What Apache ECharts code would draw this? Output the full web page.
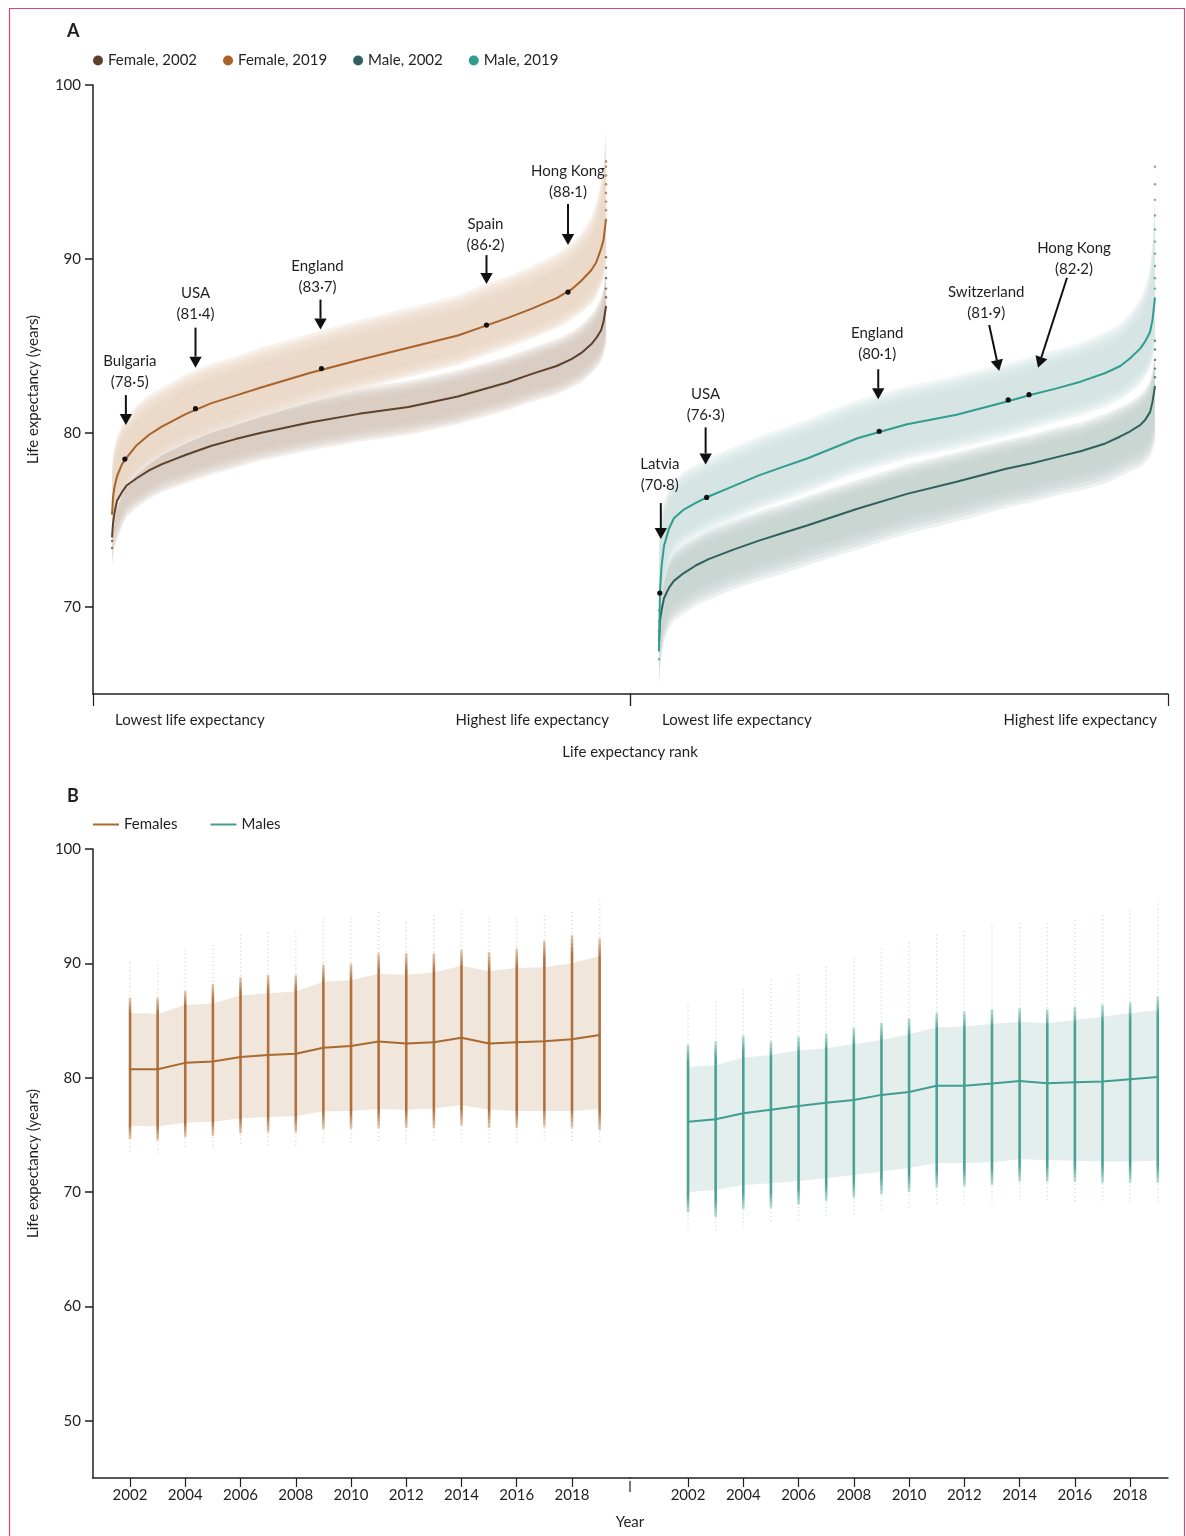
<!DOCTYPE html>
<html><head><meta charset="utf-8">
<script src="https://cdn.jsdelivr.net/npm/echarts@6/dist/echarts.min.js"></script>
<style>html,body{margin:0;padding:0;background:#fff}#c{width:1186px;height:1536px}</style>
</head><body><div id="c"></div>
<script>
// ---------------- Panel A data (rank percentile -> life expectancy) ----------------
const rankPct = [0, 0.2, 0.5, 1, 2, 3, 5, 7.5, 10, 15, 20, 25, 30, 40, 50, 60, 70, 75, 80, 85, 90, 93, 95, 97, 98, 99, 99.5, 100];

const female2019   = [75.3, 76.3, 76.9, 77.5, 78.2, 78.6, 79.3, 79.9, 80.35, 81.1, 81.7, 82.15, 82.6, 83.45, 84.2, 84.9, 85.6, 86.1, 86.6, 87.15, 87.75, 88.25, 88.75, 89.35, 89.8, 90.6, 91.1, 92.3];
const female2019Hi = [78.0, 78.7, 79.2, 79.8, 80.5, 80.9, 81.6, 82.2, 82.6, 83.4, 84.0, 84.4, 84.9, 85.7, 86.5, 87.2, 87.9, 88.5, 89.0, 89.6, 90.3, 90.9, 91.5, 92.4, 93.2, 94.5, 95.5, 97.5];
const female2019Lo = [72.8, 74.0, 74.8, 75.6, 76.4, 76.9, 77.6, 78.2, 78.7, 79.4, 80.0, 80.45, 80.9, 81.75, 82.5, 83.2, 83.9, 84.4, 84.9, 85.4, 86.0, 86.5, 86.9, 87.4, 87.8, 88.4, 88.8, 89.6];

const female2002   = [74.0, 74.8, 75.4, 76.1, 76.6, 77.0, 77.4, 77.85, 78.2, 78.75, 79.25, 79.65, 80.0, 80.6, 81.1, 81.5, 82.1, 82.5, 82.9, 83.4, 83.85, 84.25, 84.6, 85.1, 85.45, 85.9, 86.4, 87.3];
const female2002Hi = [76.0, 76.6, 77.2, 77.8, 78.2, 78.6, 79.0, 79.4, 79.7, 80.3, 80.8, 81.2, 81.5, 82.1, 82.6, 83.0, 83.6, 84.0, 84.4, 84.9, 85.4, 85.8, 86.2, 86.8, 87.2, 87.8, 88.4, 89.5];
const female2002Lo = [72.3, 72.9, 73.4, 73.8, 74.6, 75.2, 75.7, 76.2, 76.6, 77.1, 77.6, 78.0, 78.4, 79.0, 79.5, 79.9, 80.5, 80.9, 81.3, 81.8, 82.2, 82.6, 82.9, 83.4, 83.7, 84.1, 84.5, 85.0];

const male2019   = [67.5, 70.9, 72.3, 73.5, 74.5, 75.1, 75.6, 76.0, 76.35, 76.95, 77.55, 78.05, 78.55, 79.7, 80.5, 81.05, 81.8, 82.2, 82.55, 82.95, 83.45, 83.85, 84.3, 84.85, 85.25, 85.8, 86.5, 87.8];
const male2019Hi = [74.0, 75.0, 75.6, 76.1, 76.8, 77.3, 77.8, 78.2, 78.6, 79.2, 79.8, 80.3, 80.8, 81.9, 82.7, 83.3, 84.0, 84.4, 84.8, 85.2, 85.8, 86.3, 86.9, 87.7, 88.4, 89.5, 91.0, 94.0];
const male2019Lo = [65.5, 68.5, 70.2, 71.4, 72.5, 73.1, 73.6, 74.0, 74.4, 75.0, 75.6, 76.1, 76.6, 77.7, 78.5, 79.1, 79.8, 80.2, 80.6, 81.0, 81.5, 81.9, 82.3, 82.8, 83.2, 83.7, 84.2, 85.0];

const male2002   = [68.0, 69.2, 69.8, 70.5, 71.1, 71.5, 71.95, 72.4, 72.75, 73.3, 73.8, 74.25, 74.7, 75.65, 76.5, 77.2, 77.95, 78.25, 78.6, 78.95, 79.4, 79.8, 80.1, 80.45, 80.75, 81.2, 81.8, 82.7];
const male2002Hi = [70.5, 71.2, 71.7, 72.3, 72.9, 73.3, 73.7, 74.1, 74.5, 75.0, 75.5, 75.9, 76.4, 77.3, 78.2, 78.9, 79.6, 79.9, 80.3, 80.6, 81.1, 81.5, 81.8, 82.2, 82.5, 83.0, 83.6, 84.6];
const male2002Lo = [65.5, 66.3, 67.2, 68.0, 68.8, 69.2, 69.6, 70.1, 70.4, 71.0, 71.5, 71.9, 72.4, 73.3, 74.2, 74.9, 75.7, 76.0, 76.4, 76.7, 77.1, 77.5, 77.8, 78.0, 78.3, 78.6, 79.0, 79.5];

// isolated extreme areas at the two ends of the ranking (rank 100 = top, rank 0 = bottom)
const female2019TopTail = [92.8, 93.3, 93.8, 94.3, 94.8, 95.3, 95.6];
const female2002TopTail = [87.8, 88.3, 88.9, 89.5, 90.1];
const male2019TopTail = [88.3, 88.9, 89.6, 90.3, 91.0, 91.7, 92.5, 93.4, 94.3, 95.3];
const male2002TopTail = [83.2, 83.7, 84.2, 84.8, 85.3];
const male2019BottomTail = [67.0, 67.5, 68.1, 68.6, 69.2, 69.8];
const female2002BottomTail = [73.4, 73.8];

// labelled countries (2019)
const femaleLabelNames = ['Bulgaria', 'USA', 'England', 'Spain', 'Hong Kong'];
const femaleLabelRank  = [2.6, 16.9, 42.4, 75.8, 92.3];
const femaleLabelValue = [78.5, 81.4, 83.7, 86.2, 88.1];
const maleLabelNames = ['Latvia', 'USA', 'England', 'Switzerland', 'Hong Kong'];
const maleLabelRank  = [0.16, 9.6, 44.4, 70.4, 74.6];
const maleLabelValue = [70.8, 76.3, 80.1, 81.9, 82.2];

// ---------------- Panel B data (by year) ----------------
const years = [2002, 2003, 2004, 2005, 2006, 2007, 2008, 2009, 2010, 2011, 2012, 2013, 2014, 2015, 2016, 2017, 2018, 2019];
const yearTicks = [2002, 2004, 2006, 2008, 2010, 2012, 2014, 2016, 2018];

const femalesMedian = [80.74, 80.74, 81.3, 81.41, 81.82, 81.99, 82.1, 82.63, 82.78, 83.16, 83.0, 83.1, 83.5, 83.0, 83.1, 83.2, 83.36, 83.74];
const femalesHi     = [85.69, 85.58, 86.36, 86.5, 87.18, 87.38, 87.53, 88.4, 88.55, 89.07, 89.0, 89.2, 89.8, 89.3, 89.6, 89.66, 90.0, 90.65];
const femalesLo     = [75.81, 75.73, 76.08, 76.16, 76.45, 76.54, 76.66, 77.04, 77.1, 77.27, 77.2, 77.3, 77.6, 77.2, 77.1, 77.1, 77.1, 77.25];
const femalesDenseTop    = [87.0, 87.0, 87.6, 88.2, 88.8, 89.0, 89.0, 89.9, 90.0, 90.9, 90.9, 90.9, 91.2, 91.0, 91.3, 92.0, 92.5, 92.2];
const femalesDenseBottom = [74.6, 74.5, 74.8, 74.9, 75.1, 75.2, 75.2, 75.5, 75.5, 75.6, 75.6, 75.6, 75.8, 75.6, 75.6, 75.7, 75.6, 75.4];
const femalesSparseTop    = [90.1, 89.9, 91.2, 91.6, 92.5, 92.7, 92.7, 94.0, 94.0, 94.5, 93.6, 94.2, 94.7, 94.0, 94.0, 94.2, 94.5, 95.5];
const femalesSparseBottom = [73.5, 73.4, 73.7, 73.8, 74.0, 74.0, 74.0, 74.2, 74.2, 74.3, 74.3, 74.3, 74.4, 74.3, 74.3, 74.4, 74.4, 74.2];

const malesMedian = [76.16, 76.37, 76.9, 77.19, 77.53, 77.82, 78.06, 78.5, 78.76, 79.3, 79.3, 79.5, 79.72, 79.52, 79.6, 79.66, 79.87, 80.07];
const malesHi     = [80.97, 81.1, 81.76, 81.99, 82.37, 82.58, 82.95, 83.3, 83.8, 84.4, 84.5, 84.7, 84.9, 84.76, 85.05, 85.34, 85.64, 85.93];
const malesLo     = [69.99, 70.2, 70.63, 70.78, 70.98, 71.21, 71.5, 71.8, 72.1, 72.55, 72.55, 72.6, 72.88, 72.8, 72.73, 72.67, 72.67, 72.73];
const malesDenseTop    = [82.9, 83.2, 83.7, 83.2, 83.6, 83.9, 84.4, 84.8, 85.2, 85.7, 85.8, 86.0, 86.1, 86.0, 86.2, 86.4, 86.6, 87.1];
const malesDenseBottom = [68.2, 67.8, 68.5, 68.6, 68.9, 69.2, 69.5, 69.8, 70.0, 70.4, 70.5, 70.6, 70.9, 70.9, 70.9, 70.8, 70.8, 70.8];
const malesSparseTop    = [86.2, 86.65, 87.7, 88.55, 89.0, 89.7, 90.5, 91.3, 91.8, 92.5, 92.8, 93.2, 93.5, 93.5, 93.8, 94.2, 94.7, 95.5];
const malesSparseBottom = [66.8, 66.5, 67.0, 67.2, 67.5, 67.8, 68.0, 68.2, 68.5, 68.8, 68.9, 69.0, 69.3, 69.3, 69.2, 69.2, 69.1, 69.0];

// ---------------- styles / layout ----------------
const FONT = 'Lato, "Noto Sans", sans-serif';
const INK = '#231f20';
const C = {
  f02: '#5e412c', f19: '#a8622a', m02: '#2e615b', m19: '#2f9d8f',
  fLine: '#a9692f', mLine: '#3f9e91', fBand: '#f1e6db', mBand: '#e4eeed'
};
// annotation offsets in px relative to the dot: text dx, name dy, arrow tail dx/dy, arrow tip dx/dy
const femaleLabelLayout = [
  [5, -98, 1, -64, 1, -34], [0, -115, 0, -81, 0, -41], [-4, -102, -1, -69, -1, -39],
  [-1, -101, 0, -70, 0, -41], [0, -121, 0, -88, 0, -47]];
const maleLabelLayout = [
  [0, -129, 1, -90, 1, -54], [-1, -103, -1, -70, -1, -33], [-2, -98, -1, -62, -1, -32],
  [-22, -108, -19, -75, -9, -29], [45, -147, 38, -117, 9, -27]];

function zip(xs, ys) { return xs.map(function (x, i) { return [x, ys[i]]; }); }

// soft band: a stack of nested translucent polygons between lo and hi
function fuzzyLayers(rgb, veil, n, alpha, tMax) {
  const out = [];
  if (veil) out.push({ t: 0, color: veil });
  for (let k = 0; k < n; k++) out.push({ t: tMax * k / (n - 1), color: 'rgba(' + rgb + ',' + alpha + ')' });
  return out;
}

function bandSeries(idx, xs, lo, mid, hi, layers, z) {
  return {
    type: 'custom', xAxisIndex: idx, yAxisIndex: idx, silent: true, z: z,
    data: [[xs[0], mid[0]]],
    renderItem: function (params, api) {
      return {
        type: 'group', children: layers.map(function (L) {
          const up = [], dn = [];
          for (let i = 0; i < xs.length; i++) {
            up.push(api.coord([xs[i], hi[i] - L.t * (hi[i] - mid[i])]));
            dn.push(api.coord([xs[i], lo[i] + L.t * (mid[i] - lo[i])]));
          }
          return { type: 'polygon', shape: { points: up.concat(dn.reverse()) }, style: { fill: L.color } };
        })
      };
    }
  };
}

function lineSeries(name, idx, xs, ys, color, z) {
  return {
    name: name, type: 'line', xAxisIndex: idx, yAxisIndex: idx, data: zip(xs, ys),
    symbol: 'none', showSymbol: false, smooth: false, silent: true, z: z,
    lineStyle: { color: color, width: 2 }, itemStyle: { color: color }
  };
}

function tailSeries(idx, rank, values, color) {
  return {
    type: 'scatter', xAxisIndex: idx, yAxisIndex: idx, silent: true, z: 4,
    data: values.map(function (v) { return [rank, v]; }),
    symbolSize: 2.4, itemStyle: { color: color, opacity: 0.75 }
  };
}

function annotationSeries(idx, names, ranks, values, layout) {
  return {
    type: 'custom', xAxisIndex: idx, yAxisIndex: idx, silent: true, z: 10,
    data: ranks.map(function (r, i) { return [r, values[i], i]; }),
    renderItem: function (params, api) {
      const p = api.coord([api.value(0), api.value(1)]);
      const i = api.value(2);
      const L = layout[i];
      const tail = [p[0] + L[2], p[1] + L[3]], tip = [p[0] + L[4], p[1] + L[5]];
      const dx = tip[0] - tail[0], dy = tip[1] - tail[1];
      const len = Math.sqrt(dx * dx + dy * dy), ux = dx / len, uy = dy / len;
      const base = [tip[0] - ux * 11, tip[1] - uy * 11];
      const nx = -uy * 6.2, ny = ux * 6.2;
      const valTxt = '(' + api.value(1).toFixed(1).replace('.', '\u00b7') + ')';
      return {
        type: 'group', children: [
          { type: 'text', x: p[0] + L[0], y: p[1] + L[1], style: { text: names[i], font: '15px ' + FONT, fill: INK, align: 'center', verticalAlign: 'middle' } },
          { type: 'text', x: p[0] + L[0], y: p[1] + L[1] + 21, style: { text: valTxt, font: '15px ' + FONT, fill: INK, align: 'center', verticalAlign: 'middle' } },
          { type: 'line', shape: { x1: tail[0], y1: tail[1], x2: base[0], y2: base[1] }, style: { stroke: '#111', lineWidth: 2 } },
          { type: 'polygon', shape: { points: [tip, [base[0] + nx, base[1] + ny], [base[0] - nx, base[1] - ny]] }, style: { fill: '#111' } },
          { type: 'circle', shape: { cx: p[0], cy: p[1], r: 2.6 }, style: { fill: '#111' } }
        ]
      };
    }
  };
}

function stripSeries(idx, rgb, dTop, dBot, sTop, sBot) {
  return {
    type: 'custom', xAxisIndex: idx, yAxisIndex: idx, silent: true, z: 4,
    data: years.map(function (y, i) { return [y, sBot[i], dBot[i], dTop[i], sTop[i]]; }),
    renderItem: function (params, api) {
      const yr = api.value(0);
      const x = api.coord([yr, 80])[0];
      const ySB = api.coord([yr, api.value(1)])[1];
      const yDB = api.coord([yr, api.value(2)])[1];
      const yDT = api.coord([yr, api.value(3)])[1];
      const yST = api.coord([yr, api.value(4)])[1];
      const h = yDB - yDT;
      const grad = new echarts.graphic.LinearGradient(0, yDT, 0, yDB, [
        { offset: 0, color: 'rgba(' + rgb + ',0.3)' },
        { offset: 0.1, color: 'rgba(' + rgb + ',0.9)' },
        { offset: 0.9, color: 'rgba(' + rgb + ',0.9)' },
        { offset: 1, color: 'rgba(' + rgb + ',0.3)' }], true);
      return {
        type: 'group', children: [
          { type: 'line', shape: { x1: x, y1: yST, x2: x, y2: ySB }, style: { stroke: 'rgba(' + rgb + ',0.3)', lineWidth: 1.4, lineDash: [1, 3] } },
          { type: 'rect', shape: { x: x - 1.3, y: yDT, width: 2.6, height: h }, style: { fill: grad } }
        ]
      };
    }
  };
}

const axisLineStyle = { color: INK, width: 1.5 };
const labelStyle = { fontFamily: FONT, fontSize: 15, color: INK };

function xRankAxis(grid, min, max) {
  return {
    gridIndex: grid, type: 'value', min: min, max: max,
    axisLine: { show: true, onZero: false, lineStyle: axisLineStyle },
    axisTick: { show: true, customValues: [min, max], length: 12, lineStyle: { color: INK, width: 1.2 } },
    axisLabel: { show: false }, splitLine: { show: false }
  };
}
function xYearAxis(grid, min, max) {
  return {
    gridIndex: grid, type: 'value', min: min, max: max,
    axisLine: { show: true, onZero: false, lineStyle: axisLineStyle },
    axisTick: { show: true, customValues: yearTicks, length: 9, lineStyle: { color: INK, width: 1.2 } },
    axisLabel: Object.assign({ customValues: yearTicks, margin: 10, formatter: function (v) { return String(v); } }, labelStyle),
    splitLine: { show: false }
  };
}
function yAxisVisible(grid, min, max, ticks) {
  return {
    gridIndex: grid, type: 'value', min: min, max: max,
    axisLine: { show: true, onZero: false, lineStyle: axisLineStyle },
    axisTick: { show: true, customValues: ticks, length: 8, lineStyle: { color: INK, width: 1.5 } },
    axisLabel: Object.assign({ customValues: ticks, margin: 12 }, labelStyle),
    splitLine: { show: false },
    name: 'Life expectancy (years)', nameLocation: 'middle', nameGap: 52,
    nameTextStyle: { fontFamily: FONT, fontSize: 15, color: INK }
  };
}
function yAxisHidden(grid, min, max) {
  return { gridIndex: grid, type: 'value', min: min, max: max, show: false, splitLine: { show: false } };
}

const txt = function (x, y, s, align, extra) {
  return { type: 'text', x: x, y: y, silent: true, style: Object.assign({ text: s, font: '15px ' + FONT, fill: INK, align: align || 'left', verticalAlign: 'middle' }, extra || {}) };
};

const option = {
  animation: false,
  backgroundColor: '#fff',
  grid: [
    { left: 93, top: 85, width: 537, height: 609, outerBoundsMode: 'none' },
    { left: 630, top: 85, width: 538, height: 609, outerBoundsMode: 'none' },
    { left: 93, top: 849, width: 537, height: 629, outerBoundsMode: 'none' },
    { left: 630, top: 849, width: 538, height: 629, outerBoundsMode: 'none' }
  ],
  xAxis: [
    xRankAxis(0, -3.85, 104.85), xRankAxis(1, -5.85, 102.62),
    xYearAxis(2, 2000.66, 2020.10), xYearAxis(3, 1999.90, 2019.37)
  ],
  yAxis: [
    yAxisVisible(0, 65, 100, [70, 80, 90, 100]), yAxisHidden(1, 65, 100),
    yAxisVisible(2, 45, 100, [50, 60, 70, 80, 90, 100]), yAxisHidden(3, 45, 100)
  ],
  legend: [
    { data: ['Female, 2002', 'Female, 2019', 'Male, 2002', 'Male, 2019'], left: 93, top: 53, padding: 0,
      icon: 'circle', itemWidth: 10, itemHeight: 10, itemGap: 26, selectedMode: false, textStyle: labelStyle },
    { data: ['Females', 'Males'], left: 93, top: 817, padding: 0, icon: 'rect',
      itemWidth: 26, itemHeight: 2, itemGap: 33, selectedMode: false, textStyle: labelStyle }
  ],
  graphic: [
    { type: 'rect', silent: true, shape: { x: 9.5, y: 8.5, width: 1175, height: 1545 }, style: { fill: 'none', stroke: '#d8476f', lineWidth: 1.2 } },
    txt(67, 31, 'A', 'left', { font: 'bold 18px ' + FONT }),
    txt(67, 796, 'B', 'left', { font: 'bold 18px ' + FONT }),
    txt(115, 720, 'Lowest life expectancy'),
    txt(609, 720, 'Highest life expectancy', 'right'),
    txt(662, 720, 'Lowest life expectancy'),
    txt(1157, 720, 'Highest life expectancy', 'right'),
    txt(630, 752, 'Life expectancy rank', 'center'),
    txt(630, 1522, 'Year', 'center'),
    { type: 'line', silent: true, shape: { x1: 630, y1: 1481, x2: 630, y2: 1492 }, style: { stroke: INK, lineWidth: 1.2 } }
  ],
  series: [
    // Panel A bands (soft edges)
    bandSeries(0, rankPct, female2002Lo, female2002, female2002Hi, fuzzyLayers('212,198,188', null, 6, 0.3, 0.45), 1),
    bandSeries(0, rankPct, female2019Lo, female2019, female2019Hi, fuzzyLayers('234,215,196', 'rgba(255,255,255,0.6)', 6, 0.32, 0.4), 2),
    bandSeries(1, rankPct, male2002Lo, male2002, male2002Hi, fuzzyLayers('196,207,206', null, 6, 0.3, 0.45), 1),
    bandSeries(1, rankPct, male2019Lo, male2019, male2019Hi, fuzzyLayers('208,226,224', 'rgba(255,255,255,0.6)', 6, 0.3, 0.4), 2),
    // Panel A curves
    lineSeries('Female, 2002', 0, rankPct, female2002, C.f02, 5),
    lineSeries('Female, 2019', 0, rankPct, female2019, C.f19, 5),
    lineSeries('Male, 2002', 1, rankPct, male2002, C.m02, 5),
    lineSeries('Male, 2019', 1, rankPct, male2019, C.m19, 5),
    tailSeries(0, 100, female2019TopTail, C.f19),
    tailSeries(0, 100, female2002TopTail, C.f02),
    tailSeries(0, 0, female2002BottomTail, C.f02),
    tailSeries(1, 100, male2019TopTail, C.m19),
    tailSeries(1, 100, male2002TopTail, C.m02),
    tailSeries(1, 0, male2019BottomTail, C.m19),
    annotationSeries(0, femaleLabelNames, femaleLabelRank, femaleLabelValue, femaleLabelLayout),
    annotationSeries(1, maleLabelNames, maleLabelRank, maleLabelValue, maleLabelLayout),
    // Panel B
    bandSeries(2, years, femalesLo, femalesMedian, femalesHi, [{ t: 0, color: C.fBand }], 1),
    bandSeries(3, years, malesLo, malesMedian, malesHi, [{ t: 0, color: C.mBand }], 1),
    stripSeries(2, '168,100,44', femalesDenseTop, femalesDenseBottom, femalesSparseTop, femalesSparseBottom),
    stripSeries(3, '55,154,140', malesDenseTop, malesDenseBottom, malesSparseTop, malesSparseBottom),
    lineSeries('Females', 2, years, femalesMedian, C.fLine, 6),
    lineSeries('Males', 3, years, malesMedian, C.mLine, 6)
  ]
};

const chart = echarts.init(document.getElementById('c'), null, { renderer: 'canvas' });
chart.setOption(option);
</script>
</body></html>
